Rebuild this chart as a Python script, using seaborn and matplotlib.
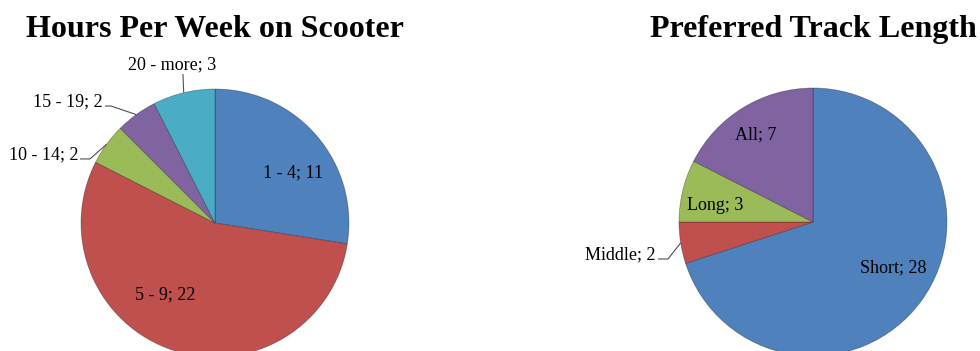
import numpy as np
import matplotlib
matplotlib.use("Agg")
import matplotlib.pyplot as plt
import seaborn as sns

# Survey answers
hours_labels = ["1 - 4", "5 - 9", "10 - 14", "15 - 19", "20 - more"]
hours_counts = [11, 22, 2, 2, 3]

track_labels = ["Short", "Middle", "Long", "All"]
track_counts = [28, 2, 3, 7]

sns.set_theme(style="white")
plt.rcParams["font.family"] = ["Liberation Serif", "DejaVu Serif"]

colors = sns.color_palette(["#4F81BD", "#C0504D", "#9BBB59", "#8064A2", "#4BACC6"])

W, H = 980, 351
fig = plt.figure(figsize=(W / 100, H / 100), dpi=100)
ax = fig.add_axes([0, 0, 1, 1])

R = 134
LABEL_SIZE = 13

# Label layout per wedge: inside labels are (angle, radius fraction);
# outside labels give text anchor, alignment and the elbow of the leader
# line, both relative to the pie centre in radius units.
hours_layout = [
    ("in", 32.7, 0.69),
    ("in", 235.2, 0.65),
    ("out", (-1.022, 0.478), "right", (-0.933, 0.478)),
    ("out", (-0.836, 0.873), "right", (-0.776, 0.873)),
    ("out", (-0.321, 1.149), "center", (-0.239, 1.112)),
]
track_layout = [
    ("in", -29.9, 0.69),
    ("out", (-1.172, -0.276), "right", (-1.082, -0.276)),
    ("in", 170.7, 0.74),
    ("in", 123.2, 0.776),
]


def draw_pie(ax, labels, counts, center, layout, title):
    cx, cy = center
    wedges, _ = ax.pie(
        counts,
        colors=colors[: len(counts)],
        startangle=90,
        counterclock=False,
        center=center,
        radius=R,
        wedgeprops=dict(edgecolor=(0, 0, 0, 0.3), linewidth=0.6),
    )
    for w, lab, val, lay in zip(wedges, labels, counts, layout):
        text = f"{lab}; {val}"
        if lay[0] == "in":
            ang = np.deg2rad(lay[1])
            x = cx + lay[2] * R * np.cos(ang)
            y = cy + lay[2] * R * np.sin(ang)
            ax.text(x, y, text, ha="center", va="center", fontsize=LABEL_SIZE, color="black")
        else:
            (tx, ty), ha, (ex, ey) = lay[1], lay[2], lay[3]
            tx, ty = cx + tx * R, cy + ty * R
            ex, ey = cx + ex * R, cy + ey * R
            mid = np.deg2rad((w.theta1 + w.theta2) / 2)
            px, py = cx + R * np.cos(mid), cy + R * np.sin(mid)
            ax.text(tx, ty, text, ha=ha, va="baseline", fontsize=LABEL_SIZE, color="black")
            if ha == "right":
                sx, sy = tx + 2, ty
            else:
                sx, sy = ex, ey
            ax.plot([sx, ex, px], [sy, ey, py], color="#505050", lw=0.8, solid_capstyle="butt")
    ax.text(cx, H - 37, title, ha="center", va="baseline", fontsize=23, fontweight="bold", color="black")


draw_pie(ax, hours_labels, hours_counts, (215, H - 223), hours_layout, "Hours Per Week on Scooter")
draw_pie(ax, track_labels, track_counts, (813, H - 222), track_layout, "Preferred Track Length")

ax.set_xlim(0, W)
ax.set_ylim(0, H)
ax.set_aspect("auto")
ax.axis("off")

fig.savefig("out.png", dpi=100, facecolor="white")
